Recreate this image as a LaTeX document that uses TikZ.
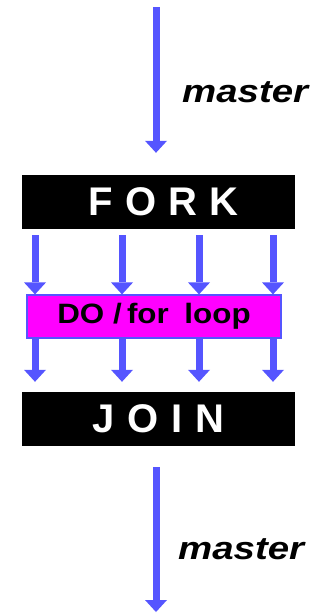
\documentclass[tikz,border=0pt]{standalone}
\usepackage{fontspec}
\setmainfont{Liberation Sans}
\usetikzlibrary{arrows.meta}
\definecolor{flowblue}{RGB}{85,85,255}
\definecolor{loopmag}{RGB}{255,0,255}
\newcommand{\spaced}[1]{\fontsize{40}{40}\selectfont\bfseries #1}
\tikzset{
  flow/.style={draw=flowblue, line width=7pt,
    -{Triangle[width=22pt,length=12pt,line width=0pt]}},
  barbox/.style={rectangle, fill=black, text=white, minimum width=273pt,
    minimum height=54pt, inner sep=0pt},
  loopbox/.style={rectangle, fill=loopmag, draw=flowblue, line width=1.2pt,
    minimum width=254pt, minimum height=43pt, inner sep=0pt},
  masterlabel/.style={anchor=base west, inner sep=0pt, text=black},
}
\begin{document}
\begin{tikzpicture}[x=1pt,y=-1pt]
  \useasboundingbox (0,0) rectangle (322,613);

  % the two synchronisation bars and the parallel loop between them
  \node[barbox] (fork) at (158.5,202)
    {\spaced{\hspace{10pt}F\hspace{13pt}O\hspace{12pt}R\hspace{12pt}K}};
  \node[loopbox] (loop) at (154,316.5)
    {\scalebox{1.12}[1]{\fontsize{28}{28}\selectfont\bfseries DO /\,for\hspace{14pt}loop}};
  \node[barbox] (join) at (158.5,419)
    {\spaced{J\hspace{13pt}O\hspace{13pt}I\hspace{13pt}N}};

  % master thread labels
  \node[masterlabel] (mA) at (182,102)
    {\scalebox{1.2}[1]{\fontsize{32}{32}\selectfont\bfseries\itshape master}};
  \node[masterlabel] (mB) at (178,559)
    {\scalebox{1.2}[1]{\fontsize{32}{32}\selectfont\bfseries\itshape master}};

  % free ends of the master thread
  \coordinate (mtop) at (156,7);
  \coordinate (mbot) at (156,612);

  % master thread into the fork
  \draw[flow, shorten >=22pt] (mtop) -- (mtop |- fork.north);

  % team threads: fork -> loop -> join
  \foreach \x in {35,122,199,273} {
    \draw[flow, shorten <=6pt] (\x,0 |- fork.south) -- (\x,0 |- loop.north);
    \draw[flow, shorten >=10pt] (\x,0 |- loop.south) -- (\x,0 |- join.north);
  }

  % master thread after the join
  \draw[flow, shorten <=21pt] (mbot |- join.south) -- (mbot);
\end{tikzpicture}
\end{document}
